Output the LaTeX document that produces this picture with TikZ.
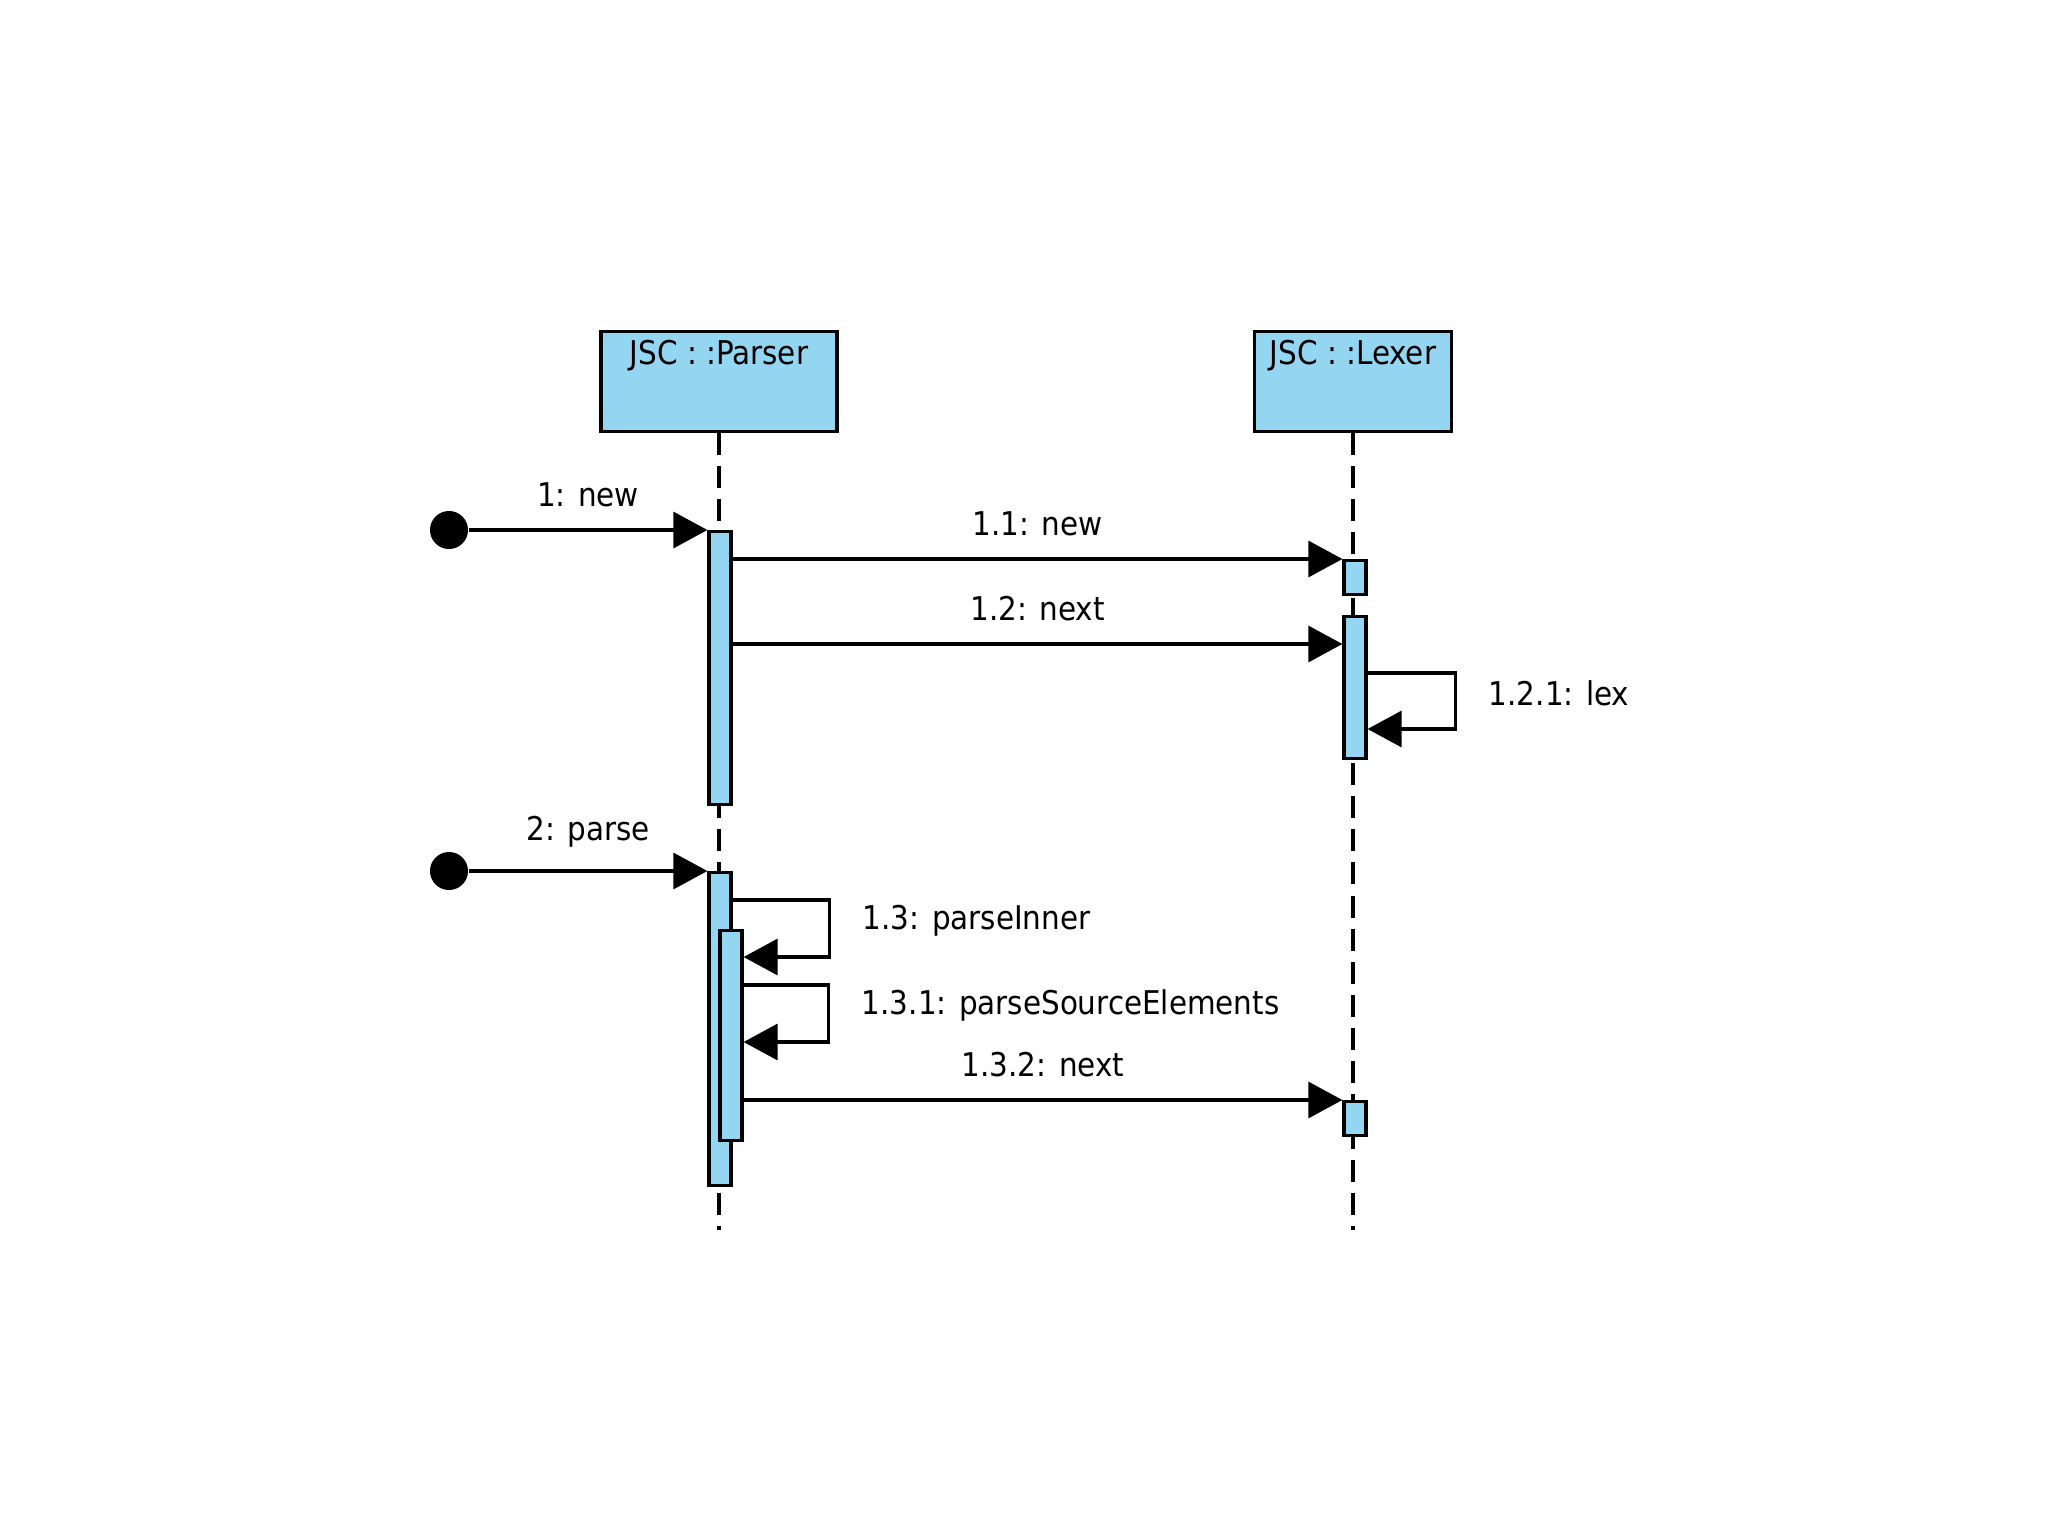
\documentclass[tikz,border=0pt]{standalone}
\usepackage{fontspec}
\setmainfont{DejaVu Sans Condensed}
\usepackage{xcolor}
\usetikzlibrary{arrows.meta, positioning, calc}
\definecolor{objfill}{RGB}{148,213,242}

\begin{document}
\begin{tikzpicture}[
    x=0.01cm, y=-0.01cm,
    font=\fontsize{9.3}{11}\selectfont,
    obj/.style={draw, line width=0.9pt, fill=objfill, anchor=north, inner ysep=0.11cm, text height=0.22cm, text depth=0.56cm},
    act/.style={draw, line width=0.9pt, fill=objfill, anchor=north, inner sep=0pt, minimum width=0.22cm, minimum height=#1},
    dot/.style={circle, fill=black, inner sep=0pt, minimum size=0.38cm},
    life/.style={line width=0.9pt, dash pattern=on 0.22cm off 0.11cm},
    msg/.style={-{Triangle[length=0.34cm, width=0.36cm]}, line width=0.9pt},
    lbl/.style={above=1mm},
    selflbl/.style={pos=0.25, right=2mm, yshift=0.08cm}
]
\useasboundingbox (0,0) rectangle (2048,1536);

% Objekte
\node[obj, minimum width=2.36cm] (parser) at (719,330) {JSC : :Parser};
\node[obj, minimum width=1.97cm] (lexer) at (1353,330) {JSC : :Lexer};

\coordinate (pend) at (719,1230);
\coordinate (lend) at (1353,1230);
\draw[life] (parser.south) -- (pend);
\draw[life] (lexer.south) -- (lend);

% Aktivierungen
\node[act=2.73cm] (pact1) at (720,530) {};
\node[act=0.34cm] (lact1) at (1355,559) {};
\node[act=1.42cm] (lact2) at (1355,615) {};
\node[act=3.13cm] (pact2) at (720,871) {};
\node[act=2.10cm] (pnest) at (731,929) {};
\node[act=0.34cm] (lact3) at (1355,1100) {};

\node[dot] (init1) at (449,530) {};
\node[dot] (init2) at (449,871) {};

% Nachrichten
\draw[msg] (init1) -- node[lbl] {1: new} (pact1.north west);
\draw[msg] (pact1.east |- lact1.north) -- node[lbl] {1.1: new} (lact1.north west);
\draw[msg] (pact1.east |- 0,644) -- node[lbl] {1.2: next} (lact2.west |- 0,644);
\draw[msg] (lact2.east |- 0,673) -- ++(88,0) |- node[selflbl] {1.2.1: lex} (lact2.east |- 0,729);

\draw[msg] (init2) -- node[lbl] {2: parse} (pact2.north west);
\draw[msg] (pact2.east |- 0,900) -- ++(97,0) |- node[selflbl] {1.3: parseInner} (pnest.east |- 0,957);
\draw[msg] (pnest.east |- 0,985) -- ++(85,0) |- node[selflbl] {1.3.1: parseSourceElements} (pnest.east |- 0,1042);
\draw[msg] (pnest.east |- lact3.north) -- node[lbl] {1.3.2: next} (lact3.north west);

\end{tikzpicture}
\end{document}
